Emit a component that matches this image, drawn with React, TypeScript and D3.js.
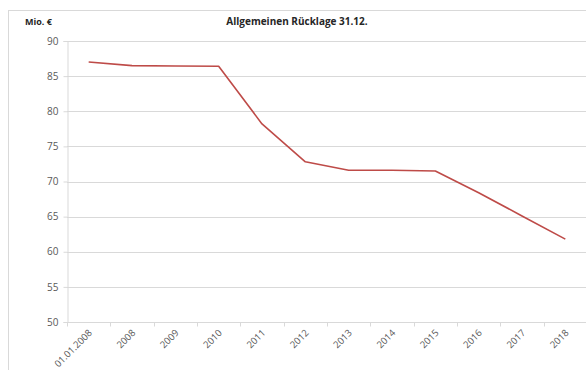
import * as d3 from 'd3';
import { useRef, useEffect } from 'react';

const categories = ['01.01.2008', '2008', '2009', '2010', '2011', '2012', '2013', '2014', '2015', '2016', '2017', '2018'];
const values = [87.0, 86.5, 86.45, 86.4, 78.2, 72.8, 71.6, 71.6, 71.5, 68.4, 65.1, 61.8];
const yTicks = [50, 55, 60, 65, 70, 75, 80, 85, 90];

const W = 586;
const H = 370;

export default function App() {
  const svgRef = useRef<SVGSVGElement>(null);

  useEffect(() => {
    const svg = d3.select(svgRef.current);
    svg.selectAll('*').remove();

    const margin = { left: 67, right: -1, top: 41, bottom: 48 };
    const font = 'Open Sans, Liberation Sans, sans-serif';

    // outer chart border (runs off the page on right and bottom)
    svg.append('rect')
      .attr('x', 8.5).attr('y', 10.5)
      .attr('width', 700).attr('height', 500)
      .attr('fill', 'none')
      .attr('stroke', '#d9d9d9');

    const x = d3.scaleBand()
      .domain(categories)
      .range([margin.left, W - margin.right]);

    const y = d3.scaleLinear()
      .domain([50, 90])
      .range([H - margin.bottom, margin.top]);

    // gridlines
    svg.append('g')
      .selectAll('line')
      .data(yTicks.filter(t => t > 50))
      .join('line')
      .attr('x1', margin.left)
      .attr('x2', W)
      .attr('y1', d => Math.round(y(d)) + 0.5)
      .attr('y2', d => Math.round(y(d)) + 0.5)
      .attr('stroke', '#d9d9d9');

    // y axis
    const yAxis = d3.axisLeft(y).tickValues(yTicks).tickSize(4).tickPadding(5);
    const gy = svg.append('g')
      .attr('transform', `translate(${margin.left + 0.5},0)`)
      .call(yAxis);
    gy.select('.domain').attr('stroke', '#d9d9d9');
    gy.selectAll('.tick line').attr('stroke', '#d9d9d9');
    gy.selectAll('.tick text')
      .attr('fill', '#595959')
      .style('font-family', font)
      .style('font-size', '10px');

    // x axis, ticks between categories
    const base = Math.round(y(50)) + 0.5;
    svg.append('line')
      .attr('x1', margin.left).attr('x2', W)
      .attr('y1', base).attr('y2', base)
      .attr('stroke', '#d9d9d9');
    svg.append('g')
      .selectAll('line')
      .data(categories)
      .join('line')
      .attr('x1', d => Math.round(x(d)!) + 0.5)
      .attr('x2', d => Math.round(x(d)!) + 0.5)
      .attr('y1', base)
      .attr('y2', base + 4)
      .attr('stroke', '#d9d9d9');

    svg.append('g')
      .selectAll('text')
      .data(categories)
      .join('text')
      .attr('transform', d => `translate(${x(d)! + x.bandwidth() / 2 + 4},${base + 11}) rotate(-45)`)
      .attr('text-anchor', 'end')
      .attr('fill', '#595959')
      .style('font-family', font)
      .style('font-size', '9.5px')
      .text(d => d);

    // line
    const line = d3.line<number>()
      .x((_, i) => x(categories[i])! + x.bandwidth() / 2)
      .y(d => y(d));
    svg.append('path')
      .datum(values)
      .attr('d', line)
      .attr('fill', 'none')
      .attr('stroke', '#be4b48')
      .attr('stroke-width', 1.6)
      .attr('stroke-linejoin', 'round');

    // titles
    svg.append('text')
      .attr('x', 297).attr('y', 25)
      .attr('text-anchor', 'middle')
      .attr('fill', '#262626')
      .style('font-family', font)
      .style('font-size', '10px')
      .style('font-weight', 'bold')
      .text('Allgemeinen Rücklage 31.12.');
    svg.append('text')
      .attr('x', 25).attr('y', 25)
      .attr('fill', '#262626')
      .style('font-family', font)
      .style('font-size', '9px')
      .style('font-weight', 'bold')
      .text('Mio. €');
  }, []);

  return (
    <svg
      ref={svgRef}
      width={W}
      height={H}
      style={{ position: 'fixed', left: 0, top: 0, background: '#fff' }}
    ></svg>
  );
}
